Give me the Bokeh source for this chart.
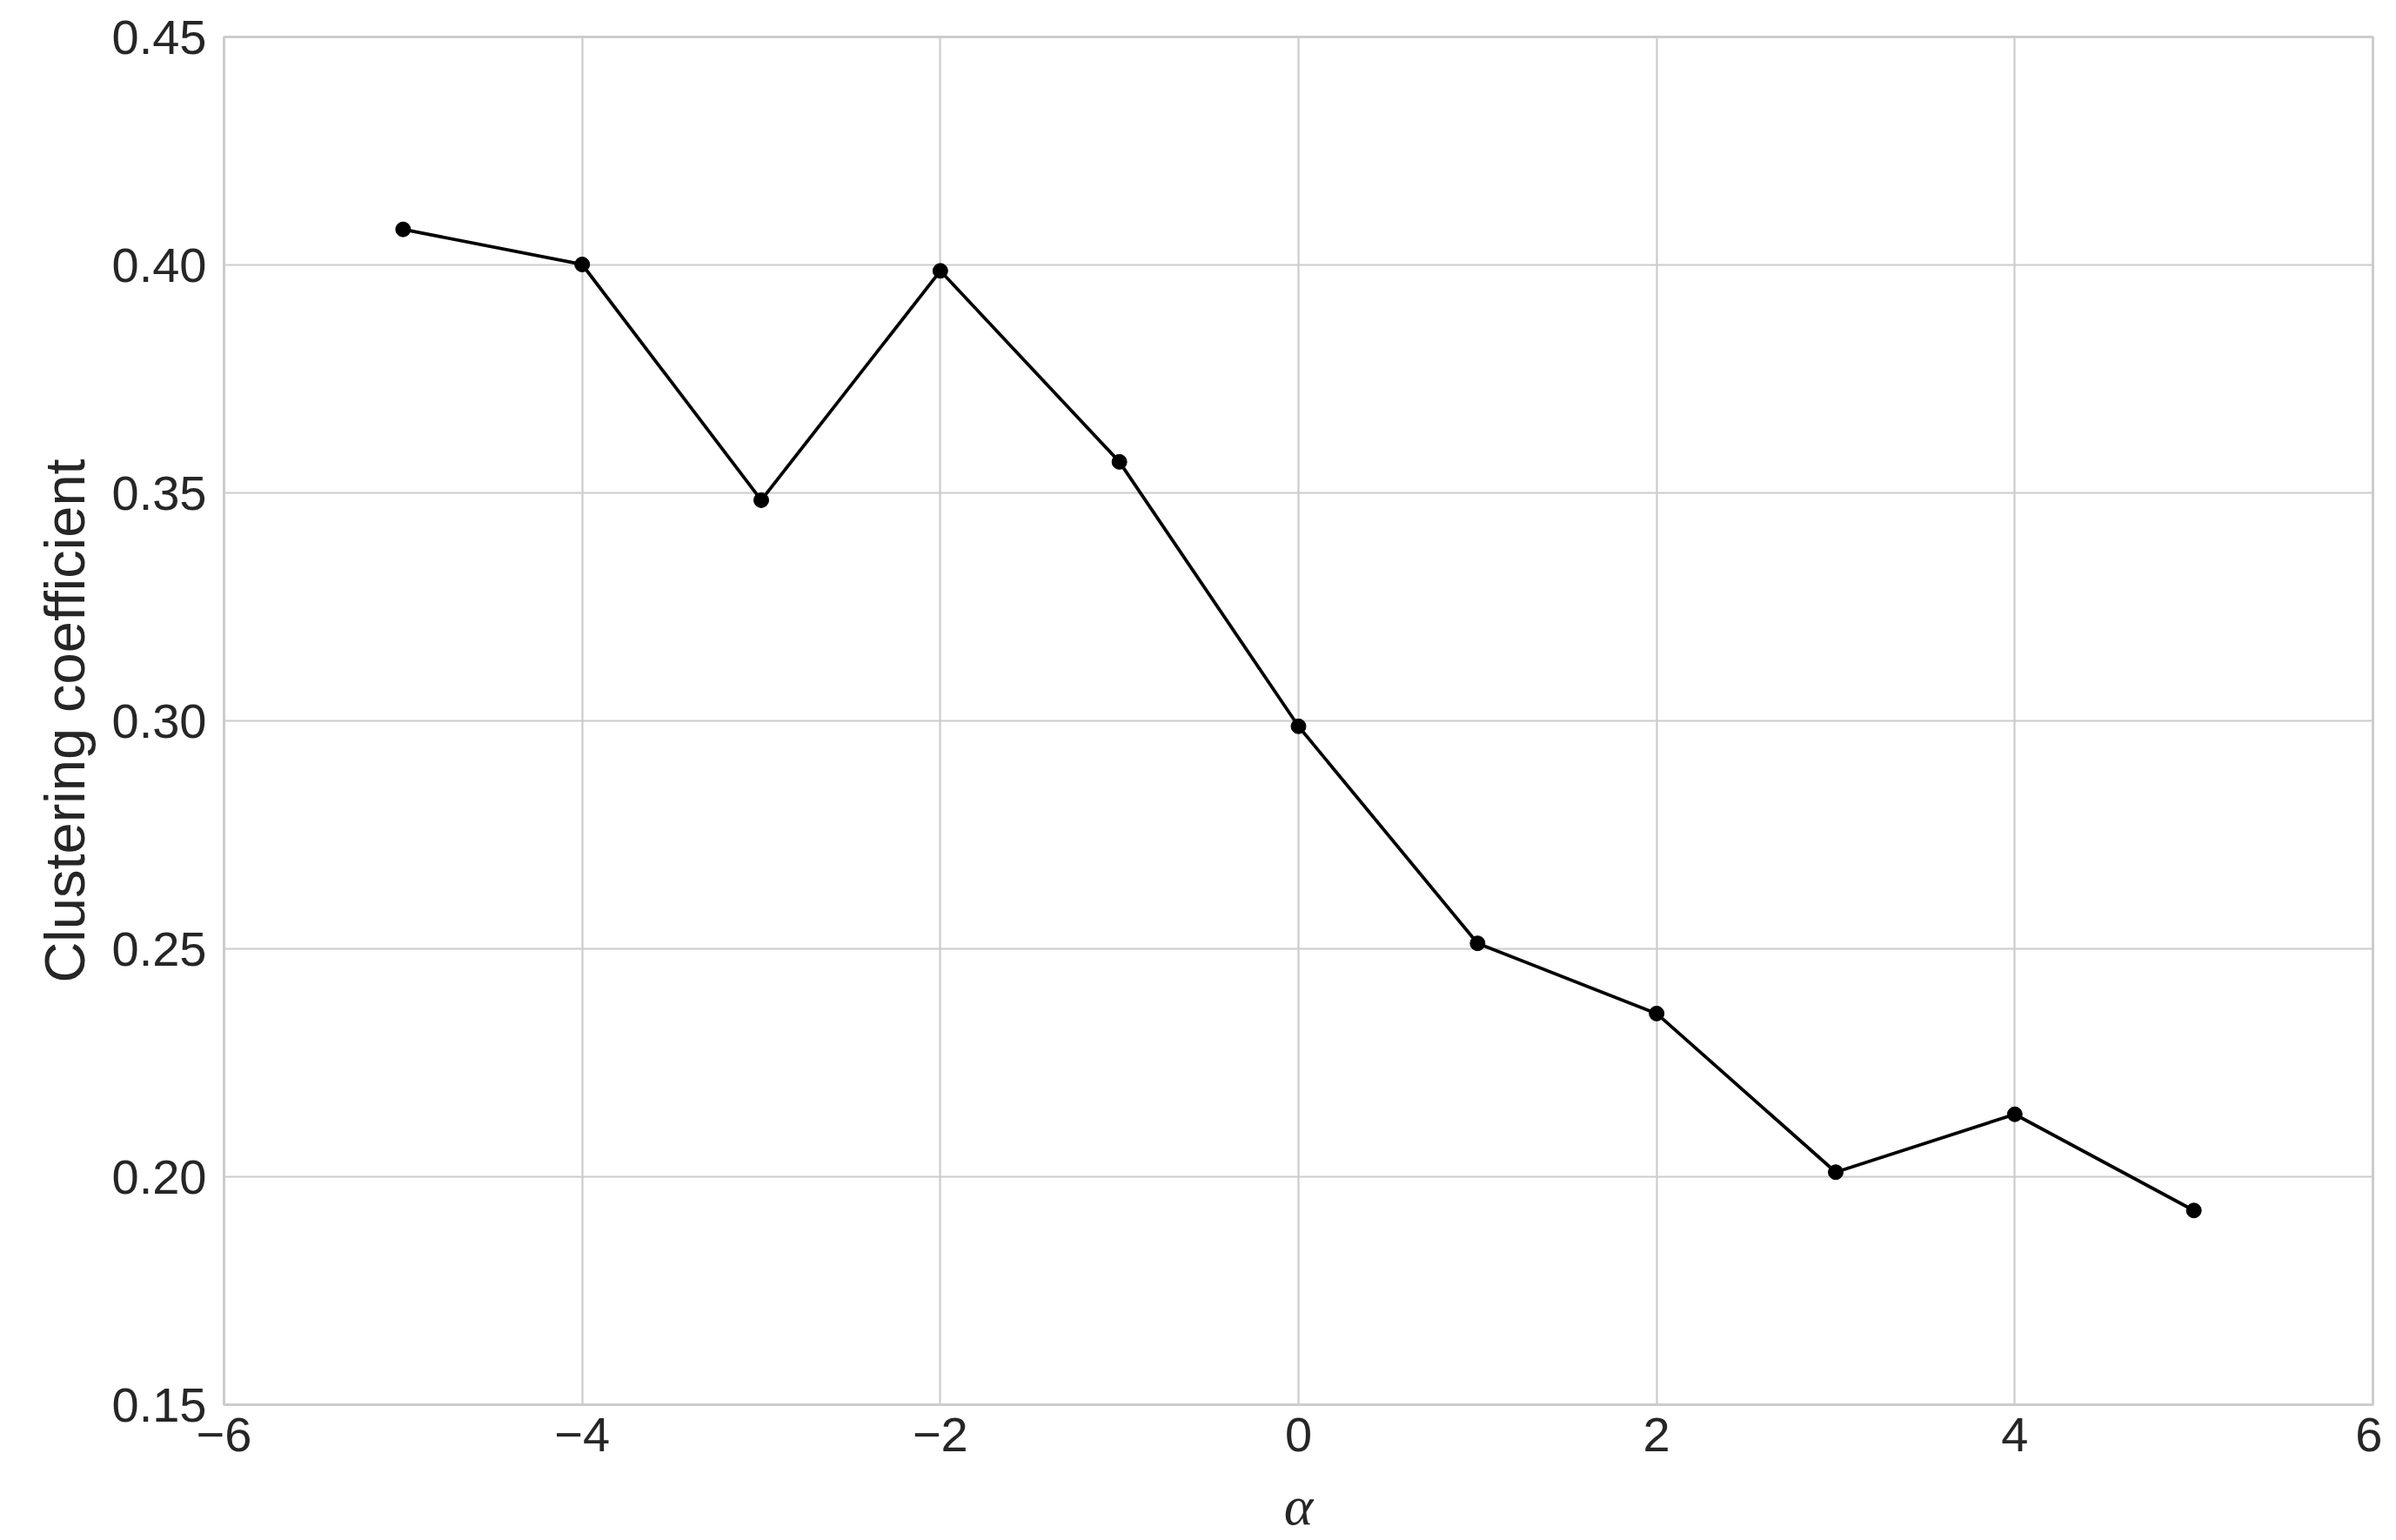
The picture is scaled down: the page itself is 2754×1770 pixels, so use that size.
from bokeh.plotting import figure
from bokeh.models import Range1d, FixedTicker, ColumnDataSource
from bokeh.embed import file_html
from bokeh.resources import INLINE

# Data
alpha = [-5, -4, -3, -2, -1, 0, 1, 2, 3, 4, 5]
clustering = [0.4078, 0.4001, 0.3484, 0.3987, 0.3568, 0.2988, 0.2512, 0.2358, 0.2010, 0.2137, 0.1926]

x_ticks = [-6, -4, -2, 0, 2, 4, 6]
x_tick_labels = ["\u22126", "\u22124", "\u22122", "0", "2", "4", "6"]
y_ticks = [0.15, 0.20, 0.25, 0.30, 0.35, 0.40, 0.45]
y_tick_labels = ["0.15", "0.20", "0.25", "0.30", "0.35", "0.40", "0.45"]
x_label = "\u03b1"
y_label = "Clustering coefficient"

source = ColumnDataSource(data=dict(x=alpha, y=clustering))

p = figure(width=2738, height=1790, output_backend="svg", toolbar_location=None,
           x_range=Range1d(-6, 6), y_range=Range1d(0.15, 0.45),
           min_border_left=257, min_border_top=42, min_border_right=11, min_border_bottom=176)

p.background_fill_color = "white"
p.border_fill_color = "white"
p.outline_line_color = "#cccccc"
p.outline_line_width = 3

p.line("x", "y", source=source, line_color="black", line_width=3.8)
p.scatter("x", "y", source=source, size=17, fill_color="black", line_color="black")

grid_color = "#cccccc"
for g in (p.xgrid, p.ygrid):
    g.grid_line_color = grid_color
    g.grid_line_width = 2.2

p.xaxis.ticker = FixedTicker(ticks=x_ticks)
p.xaxis.major_label_overrides = dict(zip(x_ticks, x_tick_labels))
p.yaxis.ticker = FixedTicker(ticks=y_ticks)
p.yaxis.major_label_overrides = dict(zip(y_ticks, y_tick_labels))
p.xgrid.ticker = FixedTicker(ticks=x_ticks)
p.ygrid.ticker = FixedTicker(ticks=y_ticks)

for ax in (p.xaxis, p.yaxis):
    ax.axis_line_color = None
    ax.major_tick_line_color = None
    ax.minor_tick_line_color = None
    ax.major_tick_out = 0
    ax.major_tick_in = 0
    ax.minor_tick_out = 0
    ax.major_label_text_font = "Liberation Sans"
    ax.major_label_text_font_size = "56px"
    ax.major_label_text_color = "#262626"

p.xaxis.major_label_standoff = 15
p.yaxis.major_label_standoff = 20

p.xaxis.axis_label = x_label
p.xaxis.axis_label_text_font = "Liberation Serif"
p.xaxis.axis_label_text_font_style = "italic"
p.xaxis.axis_label_text_font_size = "64px"
p.xaxis.axis_label_text_color = "#262626"
p.xaxis.axis_label_standoff = 24

p.yaxis.axis_label = y_label
p.yaxis.axis_label_text_font = "Liberation Sans"
p.yaxis.axis_label_text_font_style = "normal"
p.yaxis.axis_label_text_font_size = "65px"
p.yaxis.axis_label_text_color = "#262626"
p.yaxis.axis_label_standoff = 15

open("out.html", "w").write(file_html(p, INLINE))
